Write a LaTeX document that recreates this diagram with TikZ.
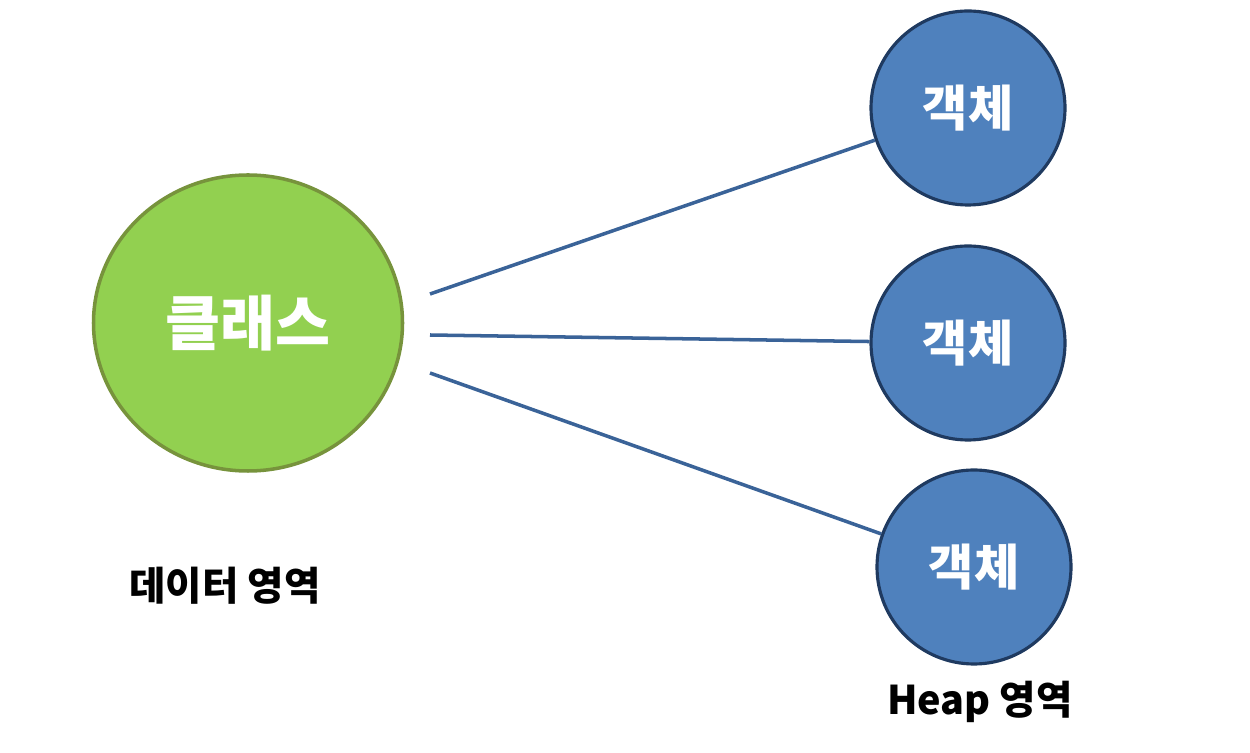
\documentclass[tikz,border=0pt]{standalone}
\usepackage{fontspec}
\newfontfamily\kr{Noto Sans CJK KR}
\usepackage{tikz}
\usetikzlibrary{shapes.geometric,positioning}
\definecolor{clsgreen}{HTML}{92D050}
\definecolor{clsedge}{HTML}{77933C}
\definecolor{objblue}{HTML}{4F81BD}
\definecolor{objedge}{HTML}{1F3A60}
\definecolor{linkblue}{HTML}{3A6398}

\begin{document}
\begin{tikzpicture}[
    cls/.style={ellipse, draw=clsedge, fill=clsgreen, line width=2pt,
      minimum width=6.18cm, minimum height=5.92cm, inner sep=0pt,
      text=white, font=\kr\bfseries\fontsize{34}{38}\selectfont},
    obj/.style={circle, draw=objedge, fill=objblue, line width=1.8pt,
      minimum size=3.88cm, inner sep=0pt,
      text=white, font=\kr\bfseries\fontsize{28}{32}\selectfont},
    area/.style={font=\kr\bfseries\fontsize{22.5}{26}\selectfont},
    link/.style={draw=linkblue, line width=2pt}]
	     \useasboundingbox (0,0) rectangle (25,15.04);
	     \node[cls] (c) at (4.96,8.58) {클래스};
	     \node[obj] (o1) at (19.36,12.88) {객체};
	     \node[obj] (o2) at (19.36,8.18) {객체};
	     \node[obj] (o3) at (19.48,3.70) {객체};
	     \node[area] (dl) at (4.50,3.33) {데이터 영역};
	     \node[area] (hl) at (19.60,1.00) {Heap 영역};
	     
	     \coordinate (c1) at (8.60,9.16);
	     \coordinate (c2) at (8.60,8.34);
	     \coordinate (c3) at (8.60,7.58);
	     
	     \path[link]
	       (c1) -- (o1)
	       (c2) -- (o2)
	       (c3) -- (o3)
	     ;
           \end{tikzpicture}
\end{document}
